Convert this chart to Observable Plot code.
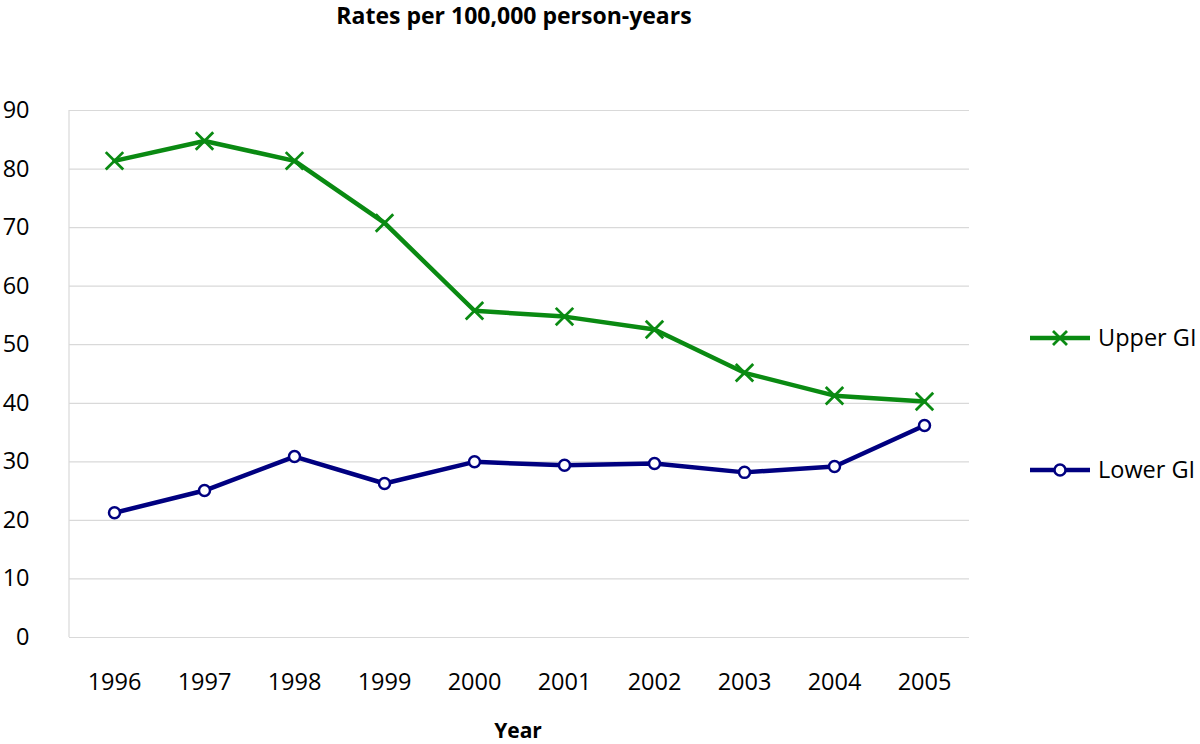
<!DOCTYPE html>
<html>
<head>
<meta charset="utf-8">
<script src="https://cdn.jsdelivr.net/npm/d3@7"></script>
<script src="https://cdn.jsdelivr.net/npm/@observablehq/plot@0.6"></script>
<style>
  body { margin: 0; background: #fff; font-family: "Open Sans", sans-serif; }
  #wrap { position: relative; width: 1200px; height: 744px; }
  #title { position: absolute; left: 0; width: 1028px; top: 0; text-align: center; font-weight: bold; font-size: 23px; color: #000; line-height: 30px; }
  #xlabel { position: absolute; left: 0; width: 1036px; top: 717px; text-align: center; font-weight: bold; font-size: 21px; color: #000; line-height: 26px; }
  #legend { position: absolute; left: 1028px; top: 0; }
</style>
</head>
<body>
<div id="wrap">
  <div id="chart"></div>
  <div id="title">Rates per 100,000 person-years</div>
  <div id="xlabel">Year</div>
  <svg id="legend" width="172" height="744"></svg>
</div>
<script>
const years = ["1996","1997","1998","1999","2000","2001","2002","2003","2004","2005"];
const upperGI = [81.4, 84.8, 81.4, 70.8, 55.8, 54.8, 52.6, 45.2, 41.3, 40.3];
const lowerGI = [21.3, 25.1, 30.9, 26.3, 30.0, 29.4, 29.7, 28.2, 29.2, 36.2];
const yTicks = [0, 10, 20, 30, 40, 50, 60, 70, 80, 90];
const seriesNames = ["Upper GI", "Lower GI"];
const colors = ["#0a8a12", "#000080"];

const rows = [];
years.forEach((y, i) => {
  rows.push({year: y, value: upperGI[i], series: seriesNames[0]});
  rows.push({year: y, value: lowerGI[i], series: seriesNames[1]});
});
const up = rows.filter(d => d.series === seriesNames[0]);
const lo = rows.filter(d => d.series === seriesNames[1]);

const chart = Plot.plot({
  width: 1200,
  height: 744,
  marginLeft: 69,
  marginRight: 231,
  marginTop: 110,
  marginBottom: 107,
  style: {fontFamily: "'Open Sans', sans-serif", fontSize: "23.5px", color: "#000", background: "#fff"},
  x: {type: "point", domain: years, padding: 0.5, label: null, tickSize: 0, tickPadding: 36},
  y: {domain: [0, 90], ticks: yTicks, label: null, tickSize: 0, tickPadding: 40},
  marks: [
    Plot.ruleY(yTicks, {stroke: "#d9d9d9", strokeWidth: 1.2}),
    Plot.line(up, {x: "year", y: "value", stroke: colors[0], strokeWidth: 4.5}),
    Plot.dot(up, {x: "year", y: "value", symbol: "times", r: 8, stroke: colors[0], strokeWidth: 2.8}),
    Plot.line(lo, {x: "year", y: "value", stroke: colors[1], strokeWidth: 4.5}),
    Plot.dot(lo, {x: "year", y: "value", symbol: "circle", r: 5.5, stroke: colors[1], fill: "#fff", strokeWidth: 2.5})
  ]
});
document.getElementById("chart").appendChild(chart);

// left axis line
const svg = d3.select(chart);
const ys = chart.scale("y");
svg.insert("line", ":first-child").attr("x1", 69).attr("x2", 69).attr("y1", ys.apply(90)).attr("y2", ys.apply(0))
  .attr("stroke", "#d9d9d9").attr("stroke-width", 1.2);

// legend
const lg = d3.select("#legend");
const legendY = [338, 470];
seriesNames.forEach((name, i) => {
  const g = lg.append("g").attr("transform", `translate(0,${legendY[i]})`);
  g.append("line").attr("x1", 2).attr("x2", 62).attr("y1", 0).attr("y2", 0).attr("stroke", colors[i]).attr("stroke-width", 4.5);
  if (i === 0) {
    g.append("path").attr("d", "M25,-7L39,7M25,7L39,-7").attr("stroke", colors[i]).attr("stroke-width", 2.8).attr("fill", "none");
  } else {
    g.append("circle").attr("cx", 32).attr("cy", 0).attr("r", 5.5).attr("stroke", colors[i]).attr("stroke-width", 2.5).attr("fill", "#fff");
  }
  g.append("text").attr("x", 70).attr("y", 0).attr("dy", "0.35em").attr("font-size", 23.5).attr("font-family", "'Open Sans', sans-serif").attr("fill", "#000").text(name);
});
</script>
</body>
</html>
